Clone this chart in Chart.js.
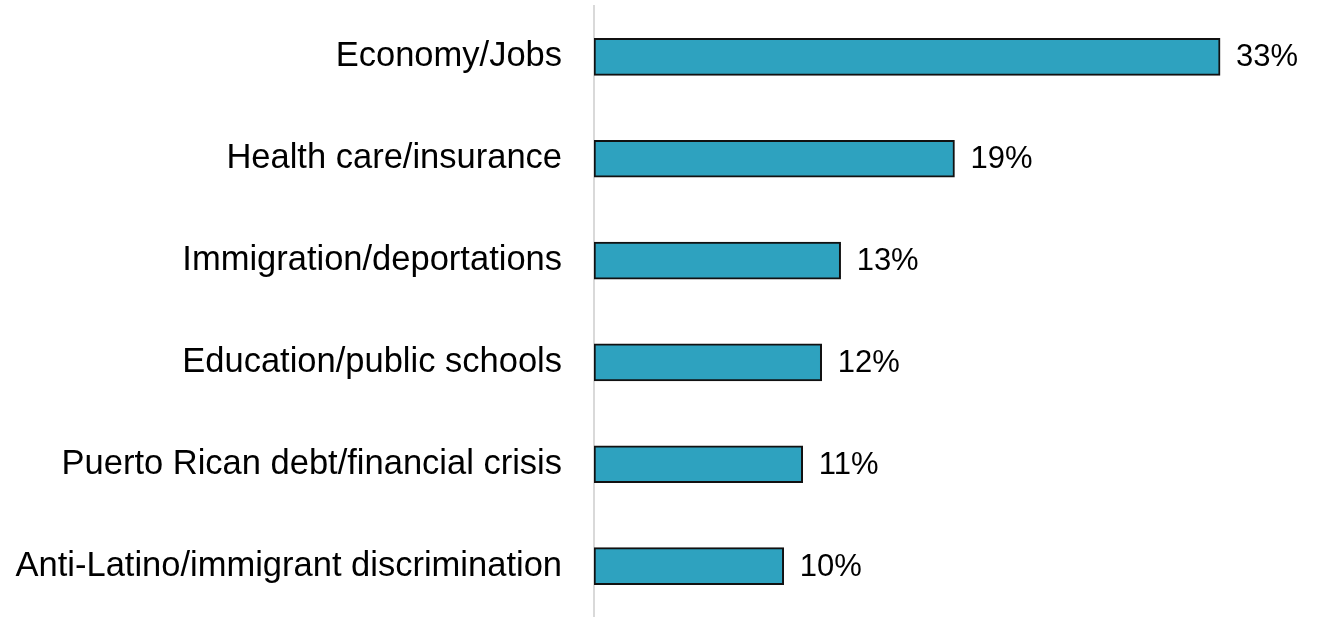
<!DOCTYPE html>
<html>
<head>
<meta charset="utf-8">
<script src="https://cdn.jsdelivr.net/npm/chart.js@4"></script>
<style>
  html, body { margin: 0; padding: 0; background: #fff; overflow: hidden; }
  canvas { display: block; }
</style>
</head>
<body>
<canvas id="myChart" width="1317" height="617"></canvas>
<script>
var categories = [
  "Economy/Jobs",
  "Health care/insurance",
  "Immigration/deportations",
  "Education/public schools",
  "Puerto Rican debt/financial crisis",
  "Anti-Latino/immigrant discrimination"
];
var values = [33, 19, 13, 12, 11, 10];

// draws "33%" etc just right of each bar
var valueLabels = {
  id: 'valueLabels',
  afterDatasetsDraw: function(chart) {
    var ctx = chart.ctx;
    var meta = chart.getDatasetMeta(0);
    ctx.save();
    ctx.font = '31px "Liberation Sans", Arial, sans-serif';
    ctx.fillStyle = '#000';
    ctx.textAlign = 'left';
    ctx.textBaseline = 'middle';
    meta.data.forEach(function(bar, i) {
      ctx.fillText(values[i] + '%', bar.x + 16, bar.y + 1);
    });
    ctx.restore();
  }
};

var ctx = document.getElementById("myChart");
var chart = new Chart(ctx, {
  type: 'bar',
  data: {
    labels: categories,
    datasets: [{
      data: values,
      backgroundColor: '#2ea2bf',
      borderColor: '#111',
      borderWidth: 2,
      borderSkipped: false,
      barThickness: 37
    }]
  },
  options: {
    indexAxis: 'y',
    responsive: false,
    animation: false,
    layout: { padding: { top: 6, right: 40, bottom: -2, left: 0 } },
    plugins: {
      legend: { display: false },
      tooltip: { enabled: false }
    },
    scales: {
      x: {
        display: false,
        min: 0,
        max: 36
      },
      y: {
        afterFit: function(scale) {
          scale.width = 594;
          scale.paddingTop = 0;
          scale.paddingBottom = 0;
        },
        grid: { display: false },
        border: { display: true, color: '#d9d9d9', width: 2 },
        ticks: {
          color: '#000',
          padding: 24,
          font: { family: '"Liberation Sans", Arial, sans-serif', size: 34.5 }
        }
      }
    }
  },
  plugins: [valueLabels]
});
</script>
</body>
</html>
